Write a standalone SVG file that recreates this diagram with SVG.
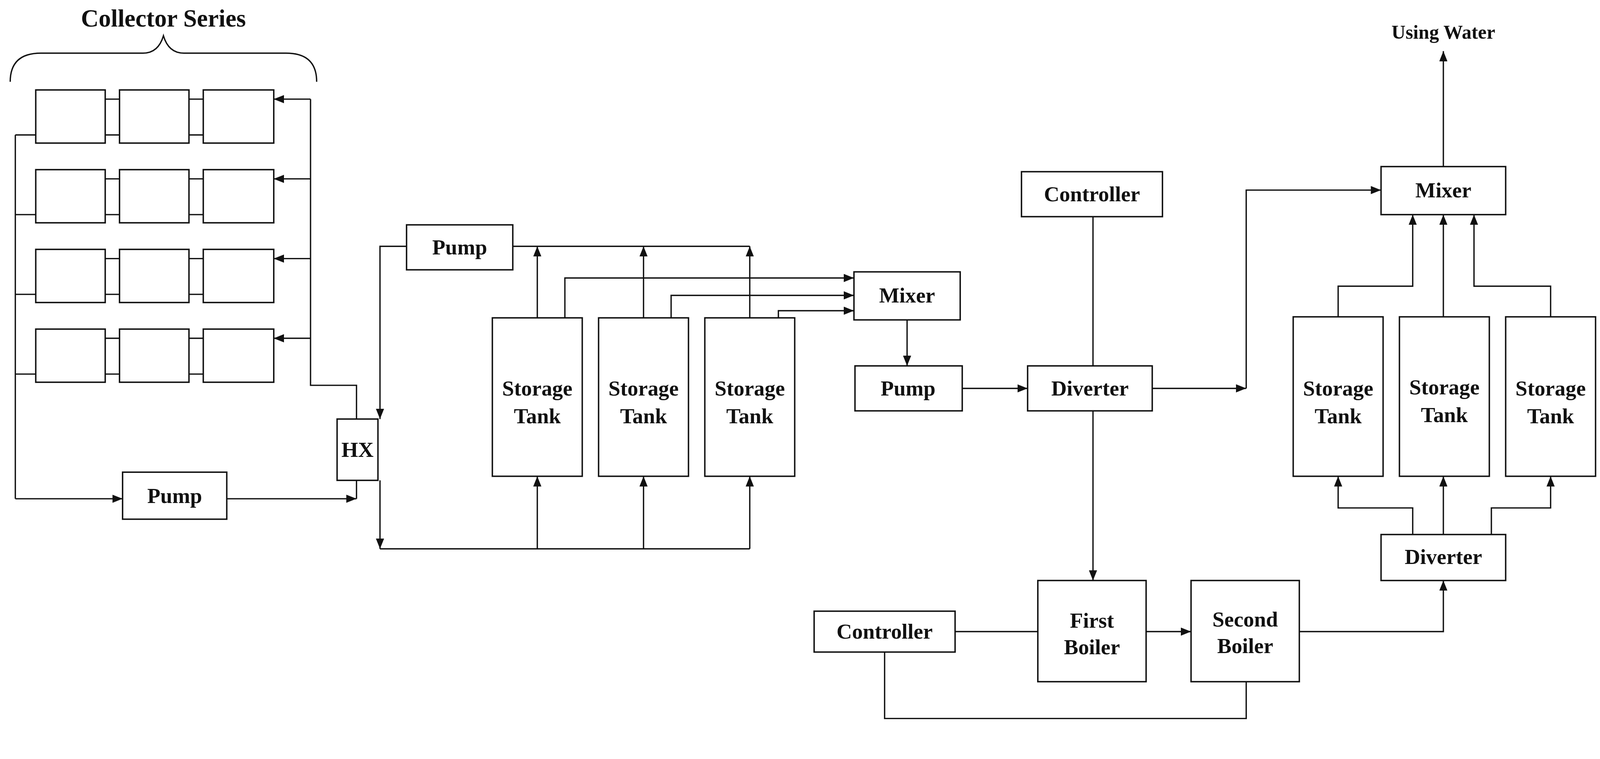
<svg xmlns="http://www.w3.org/2000/svg" width="4253" height="1942" viewBox="0 0 4253 1942">
<style>
.b{fill:#fff;stroke:#111;stroke-width:1.4}
.l{fill:none;stroke:#111;stroke-width:1.3}
.t{font-family:"Liberation Serif",serif;font-weight:bold;font-size:21px;fill:#111;text-anchor:middle}
</style>
<defs><marker id="a" markerUnits="userSpaceOnUse" markerWidth="10" markerHeight="8" refX="10" refY="4" orient="auto"><path d="M0,0L10,4L0,8z" fill="#111"/></marker></defs>
<rect width="4253" height="1942" fill="#fff"/>
<g transform="scale(2.615)">
<g id="collectors">
<text class="t" x="160" y="26" style="font-size:24px">Collector Series</text>
<path class="l" d="M10,80Q10,52 40,52L140,52Q155,52 160,35Q165,52 180,52L280,52Q310,52 310,80"/>
<g class="b">
<rect x="35" y="88" width="68" height="52"/><rect x="117" y="88" width="68" height="52"/><rect x="199" y="88" width="69" height="52"/>
<rect x="35" y="166" width="68" height="52"/><rect x="117" y="166" width="68" height="52"/><rect x="199" y="166" width="69" height="52"/>
<rect x="35" y="244" width="68" height="52"/><rect x="117" y="244" width="68" height="52"/><rect x="199" y="244" width="69" height="52"/>
<rect x="35" y="322" width="68" height="52"/><rect x="117" y="322" width="68" height="52"/><rect x="199" y="322" width="69" height="52"/>
</g>
<path class="l" d="M103,97H117M185,97H199M103,132H117M185,132H199M103,175H117M185,175H199M103,210H117M185,210H199M103,253H117M185,253H199M103,288H117M185,288H199M103,331H117M185,331H199M103,366H117M185,366H199"/>
</g>
<g id="hx"><rect class="b" x="330" y="410" width="40" height="60"/><text class="t" x="350" y="447">HX</text></g>
<g id="pump1"><rect class="b" x="120" y="462" width="102" height="46"/><text class="t" x="171" y="492">Pump</text></g>
<g id="pump2"><rect class="b" x="398" y="220" width="104" height="44"/><text class="t" x="450" y="249">Pump</text></g>
<g id="tank1"><rect class="b" x="482" y="311" width="88" height="155"/><text class="t" x="526" y="387">Storage</text><text class="t" x="526" y="414">Tank</text></g>
<g id="tank2"><rect class="b" x="586" y="311" width="88" height="155"/><text class="t" x="630" y="387">Storage</text><text class="t" x="630" y="414">Tank</text></g>
<g id="tank3"><rect class="b" x="690" y="311" width="88" height="155"/><text class="t" x="734" y="387">Storage</text><text class="t" x="734" y="414">Tank</text></g>
<g id="mixer1"><rect class="b" x="836" y="266" width="104" height="47"/><text class="t" x="888" y="296">Mixer</text></g>
<g id="pump3"><rect class="b" x="837" y="358" width="105" height="44"/><text class="t" x="889" y="387">Pump</text></g>
<g id="diverter1"><rect class="b" x="1006" y="358" width="122" height="44"/><text class="t" x="1067" y="387">Diverter</text></g>
<g id="controller1"><rect class="b" x="1000" y="168" width="138" height="44"/><text class="t" x="1069" y="197">Controller</text></g>
<g id="mixer2"><rect class="b" x="1352" y="163" width="122" height="47"/><text class="t" x="1413" y="193">Mixer</text></g>
<g id="using"><text class="t" x="1413" y="38" style="font-size:19px">Using Water</text></g>
<g id="tank4"><rect class="b" x="1266" y="310" width="88" height="156"/><text class="t" x="1310" y="387">Storage</text><text class="t" x="1310" y="414">Tank</text></g>
<g id="tank5"><rect class="b" x="1370" y="310" width="88" height="156"/><text class="t" x="1414" y="386">Storage</text><text class="t" x="1414" y="413">Tank</text></g>
<g id="tank6"><rect class="b" x="1474" y="310" width="88" height="156"/><text class="t" x="1518" y="387">Storage</text><text class="t" x="1518" y="414">Tank</text></g>
<g id="diverter2"><rect class="b" x="1352" y="523" width="122" height="45"/><text class="t" x="1413" y="552">Diverter</text></g>
<g id="boiler1"><rect class="b" x="1016" y="568" width="106" height="99"/><text class="t" x="1069" y="614">First</text><text class="t" x="1069" y="640">Boiler</text></g>
<g id="boiler2"><rect class="b" x="1166" y="568" width="106" height="99"/><text class="t" x="1219" y="613">Second</text><text class="t" x="1219" y="639">Boiler</text></g>
<g id="controller2"><rect class="b" x="797" y="598" width="138" height="40"/><text class="t" x="866" y="625">Controller</text></g>
<g id="connectors" class="l">
<path d="M15,132V488M15,132H35M15,210H35M15,288H35M15,366H35"/>
<path d="M304,97V377H349V410"/>
<path marker-end="url(#a)" d="M304,97H268"/><path marker-end="url(#a)" d="M304,175H268"/><path marker-end="url(#a)" d="M304,253H268"/><path marker-end="url(#a)" d="M304,331H268"/>
<path marker-end="url(#a)" d="M15,488H120"/>
<path d="M349,470V488"/><path marker-end="url(#a)" d="M222,488H349"/>
<path marker-end="url(#a)" d="M398,241H372V410"/>
<path d="M502,241H734"/>
<path marker-end="url(#a)" d="M372,470V537"/>
<path d="M372,537H734"/>
<path marker-end="url(#a)" d="M526,537V466"/><path marker-end="url(#a)" d="M630,537V466"/><path marker-end="url(#a)" d="M734,537V466"/>
<path marker-end="url(#a)" d="M526,311V241"/><path marker-end="url(#a)" d="M630,311V241"/><path marker-end="url(#a)" d="M734,311V241"/>
<path marker-end="url(#a)" d="M553,311V272H836"/><path marker-end="url(#a)" d="M657,311V289H836"/><path marker-end="url(#a)" d="M762,311V304H836"/>
<path marker-end="url(#a)" d="M888,313V358"/>
<path marker-end="url(#a)" d="M942,380H1006"/>
<path d="M1070,212V358"/>
<path marker-end="url(#a)" d="M1128,380H1220"/>
<path marker-end="url(#a)" d="M1220,380V186H1352"/>
<path marker-end="url(#a)" d="M1413,163V50"/>
<path marker-end="url(#a)" d="M1310,310V280H1383V210"/><path marker-end="url(#a)" d="M1413,310V210"/><path marker-end="url(#a)" d="M1518,310V280H1443V210"/>
<path marker-end="url(#a)" d="M1383,523V497H1310V466"/><path marker-end="url(#a)" d="M1413,523V466"/><path marker-end="url(#a)" d="M1460,523V497H1518V466"/>
<path marker-end="url(#a)" d="M1070,402V568"/>
<path marker-end="url(#a)" d="M1122,618H1166"/>
<path marker-end="url(#a)" d="M1272,618H1413V568"/>
<path d="M935,618H1016"/>
<path d="M866,638V703H1220V667"/>
</g>
</g>
</svg>
